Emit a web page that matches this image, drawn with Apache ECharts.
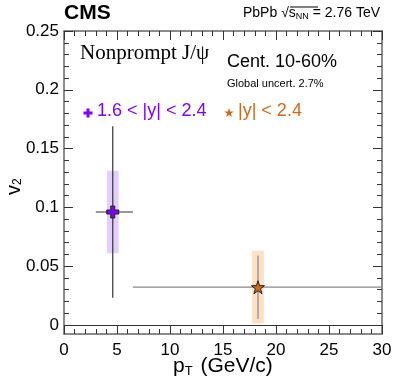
<!DOCTYPE html>
<html>
<head>
<meta charset="utf-8">
<script src="https://cdn.jsdelivr.net/npm/echarts@6/dist/echarts.min.js"></script>
<style>
  html, body { margin: 0; padding: 0; background: #fff; }
  #main { width: 399px; height: 383px; }
</style>
</head>
<body>
<div id="main"></div>
<script>
// nonprompt J/psi v2 vs pT, two rapidity bins
const seriesNames = ['1.6 < |y| < 2.4', '|y| < 2.4'];
const ptMean = [4.6, 18.3];
const ptLow = [3.0, 6.5];
const ptHigh = [6.5, 30];
const v2 = [0.096, 0.032];
const statErr = [0.073, 0.027];
const sysErr = [0.035, 0.031];

const yTicks = [0, 0.05, 0.1, 0.15, 0.2, 0.25];
const yMinorTicks = [0, 0.01, 0.02, 0.03, 0.04, 0.05, 0.06, 0.07, 0.08, 0.09, 0.1, 0.11, 0.12, 0.13, 0.14, 0.15, 0.16, 0.17, 0.18, 0.19, 0.2, 0.21, 0.22, 0.23, 0.24, 0.25];

const colors = ['#7f00ff', '#d06a18'];
const boxColors = ['rgba(200,160,255,0.5)', 'rgba(252,200,150,0.55)'];
const barColors = ['#333', '#888'];
const font = 'Liberation Sans, Arial, sans-serif';

let chart = echarts.init(document.getElementById('main'));

const frame = '#666';
function xAx(pos, labels) {
  return {
    type: 'value', min: 0, max: 30, interval: 5, position: pos,
    axisLine: { show: true, onZero: false, lineStyle: { color: frame, width: 1.5 } },
    axisTick: { inside: true, length: 9, lineStyle: { color: '#333' } },
    minorTick: { show: true, splitNumber: 5, length: 5, lineStyle: { color: '#333' } },
    axisLabel: { show: labels, fontSize: 17, color: '#000', fontFamily: font, margin: 8 },
    splitLine: { show: false }
  };
}
function yAx(pos, minor, labels) {
  return {
    type: 'value', min: -0.0078, max: 0.25, position: pos,
    axisLine: { show: !minor, onZero: false, lineStyle: { color: frame, width: 1.5 } },
    axisTick: { inside: true, length: minor ? 5 : 9, customValues: minor ? yMinorTicks : yTicks, lineStyle: { color: '#333' } },
    axisLabel: { show: labels, customValues: yTicks, fontSize: 17, color: '#000', fontFamily: font, margin: 5 },
    splitLine: { show: false }
  };
}

function errItem(params, api) {
  const i = params.dataIndex;
  const c = api.coord([ptMean[i], v2[i]]);
  const top = api.coord([ptMean[i], v2[i] + sysErr[i]]);
  const bot = api.coord([ptMean[i], v2[i] - sysErr[i]]);
  const l = api.coord([ptMean[i] - 0.55, 0]);
  const r = api.coord([ptMean[i] + 0.55, 0]);
  const st = api.coord([ptMean[i], v2[i] + statErr[i]]);
  const sb = api.coord([ptMean[i], v2[i] - statErr[i]]);
  const hl = api.coord([ptLow[i], v2[i]]);
  const hr = api.coord([ptHigh[i], v2[i]]);
  return {
    type: 'group',
    children: [
      { type: 'rect', shape: { x: l[0], y: top[1], width: r[0] - l[0], height: bot[1] - top[1] }, style: { fill: boxColors[i] } },
      { type: 'line', shape: { x1: c[0], y1: st[1], x2: c[0], y2: sb[1] }, style: { stroke: barColors[i], lineWidth: 1.2 } },
      { type: 'line', shape: { x1: hl[0], y1: c[1], x2: hr[0], y2: c[1] }, style: { stroke: barColors[i], lineWidth: 1.2 } }
    ]
  };
}

const cross = 'path://M-1,-3H1V-1H3V1H1V3H-1V1H-3V-1H-1Z';
const star = 'path://M0,-10L2.35,-3.24L9.51,-3.09L3.8,1.24L5.88,8.09L0,4L-5.88,8.09L-3.8,1.24L-9.51,-3.09L-2.35,-3.24Z';

chart.setOption({
  animation: false,
  grid: { left: 64, right: 17, top: 31, bottom: 49 },
  xAxis: [xAx('bottom', true), xAx('top', false)],
  yAxis: [yAx('left', false, true), yAx('left', true, false), yAx('right', false, false), yAx('right', true, false)],
  series: [
    {
      type: 'custom', renderItem: errItem, clip: true, z: 1,
      data: [[ptMean[0], v2[0]], [ptMean[1], v2[1]]],
      markLine: {
        silent: true, symbol: 'none', label: { show: false },
        lineStyle: { color: '#333', width: 1, type: 'solid' },
        data: [{ yAxis: 0 }]
      }
    },
    {
      name: seriesNames[0], type: 'scatter', z: 5,
      data: [[ptMean[0], v2[0]]],
      symbol: cross, symbolSize: 12,
      itemStyle: { color: colors[0], borderColor: '#222', borderWidth: 1, opacity: 1 }
    },
    {
      name: seriesNames[1], type: 'scatter', z: 5,
      data: [[ptMean[1], v2[1]]],
      symbol: star, symbolSize: 13,
      itemStyle: { color: colors[1], borderColor: '#222', borderWidth: 1, opacity: 1 }
    }
  ],
  graphic: [
    { type: 'text', x: 64, y: 3, style: { text: 'CMS', font: 'bold 21px ' + font, fill: '#000' } },
    {
      type: 'text', x: 243, y: 6,
      style: {
        text: 'PbPb √{s|s}{sub|NN} = 2.76 TeV', font: '14px ' + font, fill: '#000',
        rich: { s: { fontSize: 14, fontFamily: font }, sub: { fontSize: 9, fontFamily: font, verticalAlign: 'bottom', padding: [6, 0, 0, 0] } }
      }
    },
    { type: 'line', shape: { x1: 290, y1: 7, x2: 318, y2: 7 }, style: { stroke: '#000', lineWidth: 1 } },
    { type: 'text', x: 80, y: 43, style: { text: 'Nonprompt J/ψ', font: '21px Liberation Serif, Times New Roman, serif', fill: '#000' } },
    { type: 'text', x: 227, y: 53, style: { text: 'Cent. 10-60%', font: '18px ' + font, fill: '#000' } },
    { type: 'text', x: 227, y: 78, style: { text: 'Global uncert. 2.7%', font: '11px ' + font, fill: '#000' } },
    { type: 'polygon', shape: { points: [[-1.5, -4.5], [1.5, -4.5], [1.5, -1.5], [4.5, -1.5], [4.5, 1.5], [1.5, 1.5], [1.5, 4.5], [-1.5, 4.5], [-1.5, 1.5], [-4.5, 1.5], [-4.5, -1.5], [-1.5, -1.5]] }, x: 88, y: 113, style: { fill: colors[0] } },
    { type: 'text', x: 97, y: 102, style: { text: seriesNames[0], font: '18px ' + font, fill: colors[0] } },
    { type: 'polygon', shape: { points: [[0, -5], [1.2, -1.6], [4.8, -1.5], [1.9, 0.6], [2.9, 4], [0, 2], [-2.9, 4], [-1.9, 0.6], [-4.8, -1.5], [-1.2, -1.6]] }, x: 229, y: 113, style: { fill: colors[1] } },
    { type: 'text', x: 238, y: 102, style: { text: seriesNames[1], font: '18px ' + font, fill: colors[1] } },
    {
      type: 'text', x: 4, y: 195, rotation: Math.PI / 2,
      style: { text: 'v{sub|2}', font: '20px ' + font, fill: '#000', rich: { sub: { fontSize: 12, fontFamily: font, verticalAlign: 'bottom', padding: [8, 0, 0, 0] } } }
    },
    {
      type: 'text', x: 173, y: 355,
      style: { text: 'p{sub|T} (GeV/c)', font: '21px ' + font, fill: '#000', rich: { sub: { fontSize: 13, fontFamily: font, verticalAlign: 'bottom', padding: [10, 2, 0, 0] } } }
    }
  ]
});
</script>
</body>
</html>
